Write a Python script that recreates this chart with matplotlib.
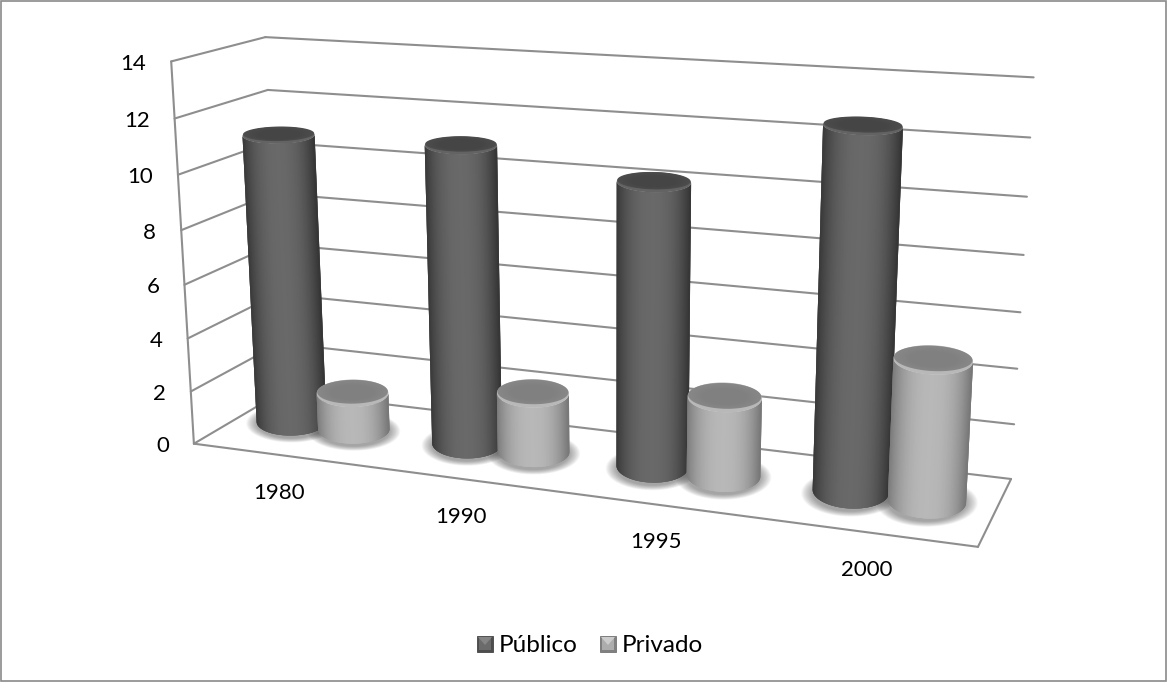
import numpy as np
import matplotlib
matplotlib.use("Agg")
import matplotlib.pyplot as plt
from matplotlib.collections import PolyCollection
from matplotlib.patches import Rectangle, Polygon

# ---- data ----
years = ["1980", "1990", "1995", "2000"]
publico = [10.93, 11.03, 10.23, 12.6]
privado = [1.4, 2.2, 2.85, 4.95]
y_ticks = [0, 2, 4, 6, 8, 10, 12, 14]
series_names = ["Público", "Privado"]

Z_MAX = 14.0
W, H = 1167, 683

# Camera calibration: box corners (x, depth, value) and where they land on the canvas.
box_points = [
    (0, 0, 0), (1, 0, 0), (1, 1, 0), (0, 1, 0),
    (0, 0, 14), (0, 1, 14), (1, 1, 14),
    (0, 0, 2), (0, 0, 12), (1, 1, 2), (1, 1, 12), (0, 1, 12),
]
canvas_points = [
    (193, 444), (978, 547), (1011, 479), (283, 392),
    (171, 62), (265, 37), (1034, 77),
    (190.5, 391), (176, 118), (1014, 424), (1030, 138), (267, 90),
]


def fit_camera(world, image):
    rows = []
    for (x, y, z), (u, v) in zip(world, image):
        z = z / Z_MAX
        u, v = u / 1000.0, v / 1000.0
        rows.append([x, y, z, 1, 0, 0, 0, 0, -u * x, -u * y, -u * z, -u])
        rows.append([0, 0, 0, 0, x, y, z, 1, -v * x, -v * y, -v * z, -v])
    return np.linalg.svd(np.array(rows))[2][-1].reshape(3, 4)


CAMERA = fit_camera(box_points, canvas_points)
DEPTH = 0.53


def project(x, y, z):
    h = CAMERA @ np.array([x, y, z / Z_MAX, 1.0])
    return np.array([h[0] / h[2], h[1] / h[2]]) * 1000.0


def ellipse_axes(x, z, rx, ry):
    a = np.linalg.norm(project(x + rx, DEPTH, z) - project(x - rx, DEPTH, z)) / 2
    b = abs(project(x, DEPTH + ry, z)[1] - project(x, DEPTH - ry, z)[1]) / 2
    return a, b


def ellipse_pts(center, a, b, tilt, phi):
    return np.column_stack([
        center[0] + a * np.cos(phi),
        center[1] + a * tilt * np.cos(phi) + b * np.sin(phi),
    ])


def gray(v):
    return (v, v, v)


fig = plt.figure(figsize=(W / 100, H / 100), dpi=100, facecolor="white")
ax = fig.add_axes([0, 0, 1, 1])
ax.set_xlim(0, W)
ax.set_ylim(H, 0)
ax.axis("off")

FONT = "Lato"
GRID = "#8e8e8e"
ax.add_patch(Rectangle((0.5, 0.5), W - 2, H - 3, fill=False, ec="#8a8a8a", lw=1.2))


def seg(p, q):
    ax.plot([p[0], q[0]], [p[1], q[1]], color=GRID, lw=1.5, solid_capstyle="round", zorder=1)


for v in y_ticks:
    seg(project(0, 0, v), project(0, 1, v))
    seg(project(0, 1, v), project(1, 1, v))
    p = project(0, 0, v)
    ax.text(p[0] - 25, p[1] + 2.5, str(v), ha="right", va="center", fontsize=16,
            family=FONT, color="black")
seg(project(0, 0, 0), project(0, 0, Z_MAX))
seg(project(0, 0, 0), project(1, 0, 0))
seg(project(1, 0, 0), project(1, 1, 0))

BAR_STEP = 0.0916
BAR_R = 0.0465
BAR_R_SCALE = [1.11, 1.04, 1.0, 0.99]
RY = 0.27
STYLES = [
    dict(edge=0.21, mid=0.41, top=0.27, rim=0.39),
    dict(edge=0.47, mid=0.72, top=0.50, rim=0.72),
]
GROUP_SHIFT = [-0.005, -0.002, -0.002, -0.002]
LABEL_DX = [16, 14, 14, 15]


def shadow(x, rx):
    c = project(x, DEPTH, 0)
    a, b = ellipse_axes(x, 0, rx, RY)
    phi = np.linspace(0, 2 * np.pi, 80)
    for k in np.linspace(1.3, 1.0, 14):
        pts = ellipse_pts(c + np.array([0, 2]), a * k, b * (k + 0.05), 0.0, phi)
        ax.add_patch(Polygon(pts, closed=True, fc="#3a3a3a", ec="none", alpha=0.04, zorder=2))


def cylinder(x, value, rx, st, z):
    base, top = project(x, DEPTH, 0), project(x, DEPTH, value)
    a0, b0 = ellipse_axes(x, 0, rx, RY)
    a1, b1 = ellipse_axes(x, value, rx, RY)
    tilt = -0.02 + 0.07 * x
    phis = np.linspace(0, np.pi, 71)
    low = ellipse_pts(base, a0, b0, tilt, phis)
    high = ellipse_pts(top, a1, b1, tilt, phis)
    # Each strip runs past its neighbour so later strips cover the seams.
    quads, cols = [], []
    last = len(phis) - 1
    for i in range(last):
        j = min(i + 3, last)
        quads.append(np.vstack([high[i:j + 1], low[i:j + 1][::-1]]))
        c = np.cos((phis[i] + phis[i + 1]) / 2)
        t = 1 - min(abs(c + 0.03), 1.0) ** 2.4
        cols.append(gray(st["edge"] + (st["mid"] - st["edge"]) * t))
    ax.add_collection(PolyCollection(quads, facecolors=cols, edgecolors="none", zorder=z))
    ring = np.linspace(0, 2 * np.pi, 90)
    ax.add_patch(Polygon(ellipse_pts(top, a1, b1, tilt, ring), closed=True,
                         fc=gray(st["rim"]), ec="none", zorder=z + 0.1))
    for k, dv in zip(np.linspace(1, 0.6, 8), np.linspace(0.03, 0, 8)):
        centre = top + np.array([0, -1.6 * k])
        ax.add_patch(Polygon(ellipse_pts(centre, a1 * k * 0.985, b1 * k * 0.86, tilt, ring), closed=True,
                             fc=gray(st["top"] + dv), ec="none", zorder=z + 0.2))


centres = [(i + 0.5) / len(years) + GROUP_SHIFT[i] for i in range(len(years))]
for i, cx in enumerate(centres):
    r = BAR_R * BAR_R_SCALE[i]
    shadow(cx - BAR_STEP / 2, r)
    shadow(cx + BAR_STEP / 2, r)

for i, cx in enumerate(centres):
    r = BAR_R * BAR_R_SCALE[i]
    cylinder(cx - BAR_STEP / 2, publico[i], r, STYLES[0], 3 + i * 2)
    cylinder(cx + BAR_STEP / 2, privado[i], r, STYLES[1], 4 + i * 2)
    p = project(cx, 0, 0)
    ax.text(p[0] - 14 + LABEL_DX[i], p[1] + 38, years[i], ha="center", va="center", fontsize=16,
            family=FONT, color="black")

# Legend swatches with a bevelled face.
for x0, text, st, tx in [(477, series_names[0], (0.30, 0.42, 0.52), 499),
                         (600, series_names[1], (0.50, 0.68, 0.80), 622)]:
    ax.add_patch(Rectangle((x0, 636), 16, 16, fc=gray(st[0]), ec=gray(st[0] * 0.9), lw=0.6, zorder=3))
    ax.add_patch(Rectangle((x0 + 2, 638), 12, 12, fc=gray(st[1]), ec="none", zorder=3))
    ax.add_patch(Polygon([(x0 + 1, 637), (x0 + 15, 637), (x0 + 8, 645)], closed=True,
                         fc=gray(st[2]), ec="none", zorder=3))
    ax.text(tx, 645, text, ha="left", va="center", fontsize=17.5, family=FONT, color="black")

fig.savefig("out.png", dpi=100, facecolor="white")
